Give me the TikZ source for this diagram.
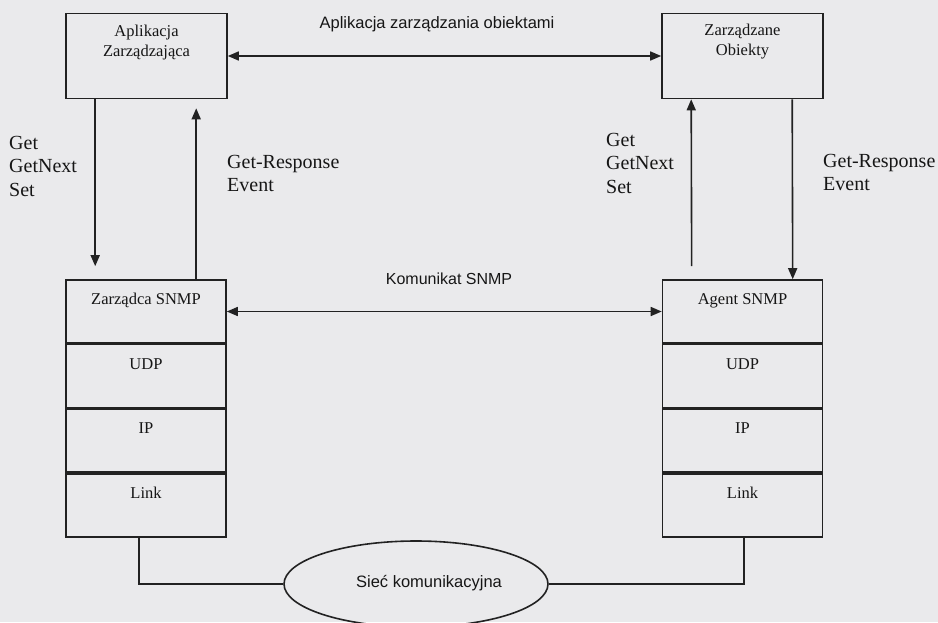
\documentclass[tikz,border=0pt]{standalone}
\usepackage{fontspec}
\setmainfont{Liberation Serif}
\newfontfamily\arialfont{Liberation Sans}
\usetikzlibrary{arrows.meta,shapes.geometric}
\definecolor{paper}{RGB}{234,234,236}
\definecolor{ink}{RGB}{34,34,34}
\definecolor{txt}{RGB}{22,22,22}

\begin{document}
\begin{tikzpicture}[x=1pt,y=-1pt,
  line/.style={draw=ink, line width=1.6pt},
  tip/.tip={Triangle[length=11pt,width=9pt]},
  arr/.style={line, -tip},
  darr/.style={line, tip-tip},
  box/.style={draw=ink, line width=1.6pt, minimum width=161pt, minimum height=85pt, inner sep=0pt},
  boxtext/.style={font=\fontsize{16.5}{20}\selectfont, text=txt, align=center, inner sep=0pt},
  cell/.style={draw=ink, line width=1.6pt, minimum width=160pt, minimum height=63pt, inner sep=0pt,
    font=\fontsize{16.5}{20}\selectfont, text=txt, text height=12pt, text depth=26pt},
  msg/.style={font=\fontsize{20}{23.5}\selectfont, text=txt, align=left, inner sep=0pt, anchor=north west},
  sans/.style={font=\arialfont\fontsize{16.5}{20}\selectfont, text=txt, inner sep=0pt},
  net/.style={draw=ink, line width=1.6pt, ellipse, minimum width=264pt, minimum height=86pt, inner sep=0pt},
]
\clip (0,0) rectangle (938,622);
\fill[paper] (0,0) rectangle (938,622);

% applications on top
\node[box] (app) at (146.5,56) {};
\node[boxtext] (apptxt) at (146.5,43) {Aplikacja\\Zarządzająca};
\node[box] (obj) at (742.5,56) {};
\node[boxtext] (objtxt) at (742.5,42) {Zarządzane\\Obiekty};

% protocol stacks
\node[cell] (mgr) at (146,311.5) {Zarządca SNMP};
\node[cell, anchor=north] (mudp) at (mgr.south) {UDP};
\node[cell, anchor=north] (mip) at (mudp.south) {IP};
\node[cell, anchor=north] (mlink) at (mip.south) {Link};

\node[cell] (agent) at (742.5,311.5) {Agent SNMP};
\node[cell, anchor=north] (audp) at (agent.south) {UDP};
\node[cell, anchor=north] (aip) at (audp.south) {IP};
\node[cell, anchor=north] (alink) at (aip.south) {Link};

% network
\node[net] (net) at (416,584) {};
\node[sans] (nettxt) at (429,583) {Sieć komunikacyjna};

% horizontal exchanges
\draw[darr] (app.east) -- (obj.west);
\node[sans] (toplbl) at (437,24) {Aplikacja zarządzania obiektami};
\draw[darr] (mgr.east) -- (agent.west);
\node[sans, font=\arialfont\fontsize{16}{19}\selectfont] (snmplbl) at (449,279) {Komunikat SNMP};

% vertical requests and responses
\draw[arr, shorten >=13pt] ([xshift=30pt]app.south west) -- ([xshift=30pt]mgr.north west);
\draw[arr, shorten >=9pt] ([xshift=131pt]mgr.north west) -- ([xshift=131pt]app.south west);
\draw[arr, shorten <=13pt] ([xshift=30pt]agent.north west) -- ([xshift=30pt]obj.south west);
\draw[arr] ([xshift=131pt]obj.south west) -- ([xshift=131pt]agent.north west);

\node[msg] (lreq) at (9,136) {Get\\GetNext\\Set};
\node[msg] (lresp) at (227,155) {Get-Response\\Event};
\node[msg] (rreq) at (606,133) {Get\\GetNext\\Set};
\node[msg] (rresp) at (823,154) {Get-Response\\Event};

% links to the network
\draw[line] ([xshift=-7pt]mlink.south) |- (net.west);
\draw[line] (net.east) -| ([xshift=1.5pt]alink.south);
\end{tikzpicture}
\end{document}
